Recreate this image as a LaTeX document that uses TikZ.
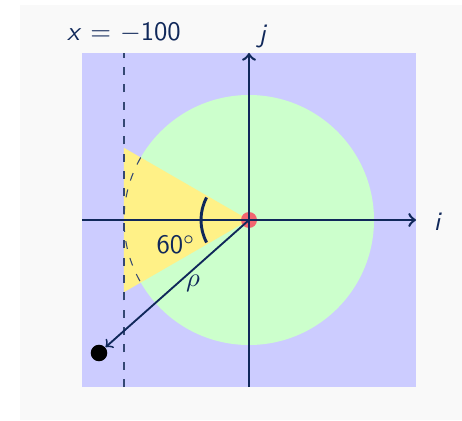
\documentclass[tikz,border=0pt]{standalone}
\definecolor{navy}{RGB}{16,40,90}
\definecolor{bggray}{RGB}{249,249,249}
\definecolor{sqblue}{RGB}{204,204,255}
\definecolor{circgreen}{RGB}{204,255,204}
\definecolor{triyellow}{RGB}{255,241,135}
\definecolor{dotred}{RGB}{242,102,112}
\tikzset{
  axis/.style={navy, line width=0.95pt, -to},
  guide/.style={navy!85!white, dash pattern=on 3pt off 3.5pt},
  lbl/.style={text=navy, inner sep=0pt},
}
\newcommand{\sfit}[1]{\textsf{\textit{#1}}}
\begin{document}
\begin{tikzpicture}[x=0.375pt,y=0.375pt,font=\sffamily]
\useasboundingbox (-249,-200) rectangle (213,220);
\fill[white] (-249,-200) rectangle (213,220);
\fill[bggray] (-229,-200) rectangle (213,215);
\fill[sqblue] (-167,-167) rectangle (167,167);
\fill[circgreen] (0,0) circle[radius=125];
\fill[triyellow] (0,0) -- (150:144.34) -- (210:144.34) -- cycle;
\fill[dotred] (0,0) circle[radius=8];
\coordinate (O) at (0,0);
\coordinate (L) at (-167,0);
\coordinate (R) at (167,0);
\coordinate (B) at (0,-167);
\coordinate (T) at (0,167);
\coordinate (DB) at (-125,-167);
\coordinate (DT) at (-125,167);
\draw[axis] (L) -- (R);
\draw[axis] (B) -- (T);
\draw[guide] (DB) -- (DT);
\draw[guide] (150:125) arc[start angle=150,end angle=210,radius=125];
\draw[navy, line width=1.1pt] (152:48) arc[start angle=152,end angle=208,radius=48];
\node[circle, fill=black, inner sep=0pt, minimum size=6.2pt] (P) at (-150,-133) {};
\draw[navy, line width=0.7pt, -to] (O) -- (P);
\node[lbl] (rho) at (-56,-63) {$\rho$};
\node[lbl] (ang) at (-73,-25) {60$^\circ$};
\node[lbl] (ilab) at (189,-2) {\sfit{i}};
\node[lbl] (jlab) at (14,183) {\sfit{j}};
\node[lbl] (xlab) at (-125,187) {\sfit{x} $=$ $-$100};
\end{tikzpicture}
\end{document}
